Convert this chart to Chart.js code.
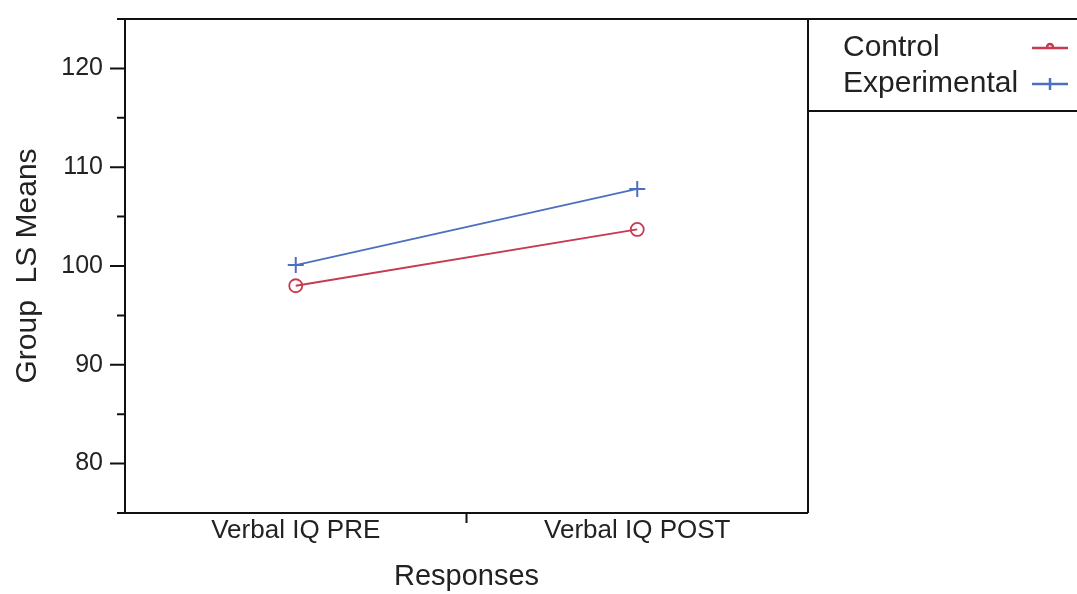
<!DOCTYPE html>
<html>
<head>
<meta charset="utf-8">
<script src="https://cdn.jsdelivr.net/npm/chart.js@4.4.0/dist/chart.umd.min.js"></script>
<style>
    html, body { margin: 0; padding: 0; background: #fff; }
    #grafico { display: block; }
</style>
</head>
<body>
<canvas id="grafico" width="1077" height="594"></canvas>
<script>
// Dados do gráfico
const categorias = ['Verbal IQ PRE', 'Verbal IQ POST'];
const controle = [98.0, 103.7];
const experimental = [100.1, 107.8];
const ticksY = [80, 90, 100, 110, 120];
const nomesSeries = ['Control', 'Experimental'];

const fonte = '"Liberation Sans", Arial, Helvetica, sans-serif';
const corTexto = '#222';
const corControle = '#c73a50';
const corExperimental = '#4d6fc0';

// Moldura, marcas dos eixos e legenda desenhadas à mão
const molduraPlugin = {
    id: 'moldura',
    afterDraw(chart) {
        const ctx = chart.ctx;
        const area = chart.chartArea;
        const x = chart.scales.x;
        const y = chart.scales.y;
        const topoLegenda = area.top;
        const baseLegenda = 111;

        ctx.save();
        ctx.strokeStyle = '#111';
        ctx.lineWidth = 2;
        ctx.beginPath();
        ctx.moveTo(area.left, area.top);
        ctx.lineTo(chart.width, area.top);
        ctx.moveTo(area.left, area.top);
        ctx.lineTo(area.left, area.bottom);
        ctx.moveTo(area.left, area.bottom);
        ctx.lineTo(area.right, area.bottom);
        ctx.moveTo(area.right, area.top);
        ctx.lineTo(area.right, area.bottom);
        ctx.moveTo(area.right, baseLegenda);
        ctx.lineTo(chart.width, baseLegenda);

        // marcas do eixo y
        y.ticks.forEach(t => {
            const py = y.getPixelForValue(t.value);
            const len = ticksY.includes(t.value) ? 15 : 8;
            ctx.moveTo(area.left - len, py);
            ctx.lineTo(area.left, py);
        });

        // marca do eixo x entre as categorias
        const meio = x.getPixelForValue(0.5);
        ctx.moveTo(meio, area.bottom);
        ctx.lineTo(meio, area.bottom + 10);
        ctx.stroke();

        // legenda
        ctx.font = '30px ' + fonte;
        ctx.textBaseline = 'middle';
        ctx.textAlign = 'left';
        chart.data.datasets.forEach((ds, i) => {
            const cy = topoLegenda + 29 + i * 36;
            ctx.fillStyle = corTexto;
            ctx.fillText(ds.label, area.right + 35, cy);
            const x0 = chart.width - 45;
            const x1 = chart.width - 9;
            ctx.strokeStyle = ds.borderColor;
            ctx.lineWidth = 2.5;
            ctx.beginPath();
            ctx.moveTo(x0, cy);
            ctx.lineTo(x1, cy);
            const xm = (x0 + x1) / 2;
            if (ds.pointStyle === 'cross') {
                ctx.moveTo(xm, cy - 6);
                ctx.lineTo(xm, cy + 6);
            } else {
                ctx.moveTo(xm + 3, cy - 1);
                ctx.arc(xm, cy - 1, 3, 0, Math.PI, true);
            }
            ctx.stroke();
        });
        ctx.restore();
    }
};

const ctx = document.getElementById('grafico').getContext('2d');

new Chart(ctx, {
    type: 'line',
    data: {
        labels: categorias,
        datasets: [{
            label: nomesSeries[0],
            data: controle,
            borderColor: corControle,
            backgroundColor: 'rgba(0,0,0,0)',
            borderWidth: 1.8,
            pointStyle: 'circle',
            pointRadius: 6.5,
            pointBorderWidth: 1.8,
            pointBackgroundColor: 'rgba(0,0,0,0)',
            pointBorderColor: corControle
        }, {
            label: nomesSeries[1],
            data: experimental,
            borderColor: corExperimental,
            backgroundColor: 'rgba(0,0,0,0)',
            borderWidth: 1.8,
            pointStyle: 'cross',
            pointRadius: 8,
            pointBorderWidth: 2,
            pointBorderColor: corExperimental
        }]
    },
    options: {
        responsive: false,
        animation: false,
        layout: {
            padding: { top: 19, right: 269, left: 0, bottom: 0 }
        },
        plugins: {
            legend: { display: false },
            tooltip: { enabled: false }
        },
        scales: {
            x: {
                type: 'category',
                offset: true,
                grid: { display: false, drawTicks: false },
                border: { display: false },
                ticks: {
                    color: corTexto,
                    font: { family: fonte, size: 26 },
                    padding: 2,
                    maxRotation: 0
                },
                title: {
                    display: true,
                    text: 'Responses',
                    color: corTexto,
                    font: { family: fonte, size: 29 },
                    padding: 0
                },
                afterFit(s) {
                    s.height = 81;
                    s.paddingLeft = 0;
                    s.paddingRight = 0;
                }
            },
            y: {
                min: 75,
                max: 125,
                grid: { display: false, drawTicks: false },
                border: { display: false },
                ticks: {
                    stepSize: 5,
                    color: corTexto,
                    font: { family: fonte, size: 25 },
                    padding: 22,
                    callback: v => ticksY.includes(v) ? String(v) : ''
                },
                title: {
                    display: true,
                    text: 'Group  LS Means',
                    color: corTexto,
                    font: { family: fonte, size: 30 },
                    padding: { top: 10, bottom: 0 }
                },
                afterFit(s) {
                    s.width = 125;
                    s.paddingTop = 0;
                    s.paddingBottom = 0;
                }
            }
        }
    },
    plugins: [molduraPlugin]
});
</script>
</body>
</html>
